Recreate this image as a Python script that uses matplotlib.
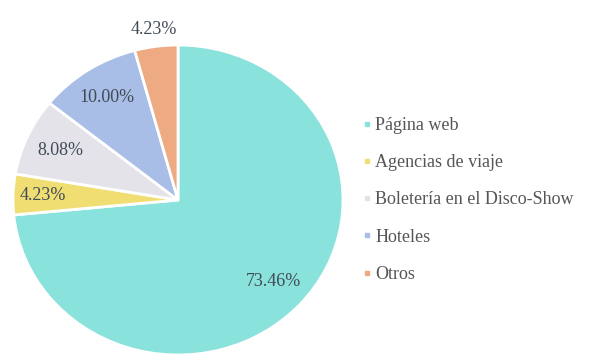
import numpy as np
import matplotlib.pyplot as plt
from matplotlib.lines import Line2D

categories = ["Página web", "Agencias de viaje", "Boletería en el Disco-Show", "Hoteles", "Otros"]
shares = [73.46, 4.23, 8.08, 10.00, 4.23]
labels = ["73.46%", "4.23%", "8.08%", "10.00%", "4.23%"]
colors = ["#8AE2DC", "#F1DE72", "#E4E3EA", "#A8BEE6", "#EEAA82"]
label_radius = [0.78, 0.82, 0.78, 0.79, 1.11]

plt.rcParams['font.family'] = ['Liberation Serif', 'DejaVu Serif']

fig = plt.figure(figsize=(5.92, 3.57), dpi=100)
W, H = 592, 357
cx, cy, rx, ry = 178, 200, 165, 155
ax = fig.add_axes([(cx - rx) / W, (H - cy - ry) / H, 2 * rx / W, 2 * ry / H])

wedges, _ = ax.pie(shares, colors=colors, startangle=90, counterclock=False,
                   radius=1.0, wedgeprops=dict(edgecolor="white", linewidth=2))
for w in wedges:
    w.set_clip_on(False)
ax.set_aspect('auto')
ax.set_xlim(-1, 1)
ax.set_ylim(-1, 1)

total = sum(shares)
start = 90.0
for val, lab, r in zip(shares, labels, label_radius):
    sweep = val / total * 360.0
    mid = np.deg2rad(start - sweep / 2)
    ax.text(r * np.cos(mid), r * np.sin(mid), lab, ha="center", va="center",
            fontsize=13, color="#414b57", clip_on=False)
    start -= sweep

handles = [Line2D([], [], marker="s", linestyle="none", markersize=3.5,
                  markerfacecolor=c, markeredgecolor=c) for c in colors]
fig.legend(handles, categories, loc="upper left", bbox_to_anchor=(351 / W, 1 - 108 / H),
           frameon=False, fontsize=13, labelcolor="#555555", handletextpad=0.05,
           labelspacing=1.12, handlelength=0.8, borderpad=0)

fig.savefig("out.png", dpi=100)
